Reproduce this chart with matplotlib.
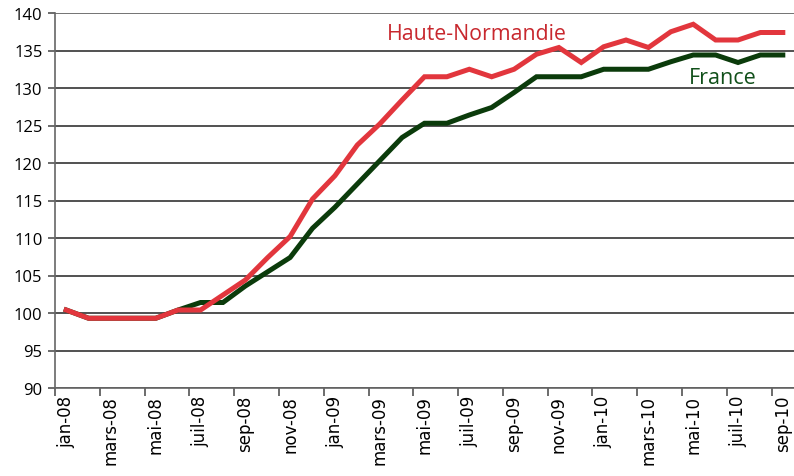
import matplotlib
matplotlib.use("Agg")
import matplotlib.pyplot as plt
import numpy as np

months = ["jan", "févr", "mars", "avr", "mai", "juin", "juil", "août", "sep", "oct", "nov", "déc"]
years = ["08", "09", "10"]
categories = [f"{m}-{y}" for y in years for m in months][:33]

haute_normandie = [100.4, 99.3, 99.3, 99.3, 99.3, 100.4, 100.4, 102.4, 104.4, 107.4,
                   110.2, 115.2, 118.3, 122.4, 125.2, 128.4, 131.5, 131.5, 132.5, 131.5,
                   132.5, 134.5, 135.4, 133.4, 135.5, 136.4, 135.4, 137.5, 138.5, 136.4,
                   136.4, 137.4, 137.4]
france = [100.4, 99.3, 99.3, 99.3, 99.3, 100.4, 101.4, 101.4, 103.6, 105.5,
          107.4, 111.3, 114.1, 117.2, 120.3, 123.4, 125.3, 125.3, 126.4, 127.4,
          129.4, 131.5, 131.5, 131.5, 132.5, 132.5, 132.5, 133.5, 134.4, 134.4,
          133.4, 134.4, 134.4]
y_ticks = [90, 95, 100, 105, 110, 115, 120, 125, 130, 135, 140]

red = "#E2363D"
green = "#0B3B0B"

W, H = 794, 477
fig = plt.figure(figsize=(W/100, H/100), dpi=100)
ax = fig.add_axes([55/W, (H-389)/H, 739/W, 375/H])

x = np.arange(len(categories)) + 0.5
ax.plot(x, france, color=green, lw=3.6, solid_joinstyle="miter", zorder=3)
ax.plot(x, haute_normandie, color=red, lw=3.6, solid_joinstyle="miter", zorder=4)

ax.set_xlim(0, len(categories))
ax.set_ylim(90, 140)
ax.set_yticks(y_ticks)
ax.set_yticklabels([str(v) for v in y_ticks], fontsize=12, family="Open Sans")
for v in y_ticks:
    ax.axhline(v, color="#222222", lw=1.1, zorder=1)

ax.set_xticks(np.arange(0, len(categories) + 1, 2))
ax.set_xticklabels([])
ax.set_xticks(x[::2], minor=True)
ax.set_xticklabels(categories[::2], minor=True, rotation=90, fontsize=12,
                   family="DejaVu Sans", va="top", ha="center")
ax.tick_params(axis="x", which="minor", length=0, pad=5)
ax.tick_params(axis="x", which="major", length=6, width=1.1, color="#444444")
ax.tick_params(axis="y", length=5, width=1.1, color="#444444", pad=4)

for s in ["top", "right"]:
    ax.spines[s].set_visible(False)
ax.spines["left"].set_color("#666666")
ax.spines["left"].set_linewidth(1.2)
ax.spines["bottom"].set_color("#666666")
ax.spines["bottom"].set_linewidth(1.2)
ax.axhline(140, color="#777777", lw=1.4, zorder=1)

fig.text(477/W, 1 - 35/H, "Haute-Normandie", color="#C8282E", fontsize=15.3,
         family="Open Sans", ha="center", va="center")
fig.text(723/W, 1 - 79/H, "France", color="#11501A", fontsize=15.5,
         family="Open Sans", ha="center", va="center")

fig.savefig("out.png", dpi=100)
